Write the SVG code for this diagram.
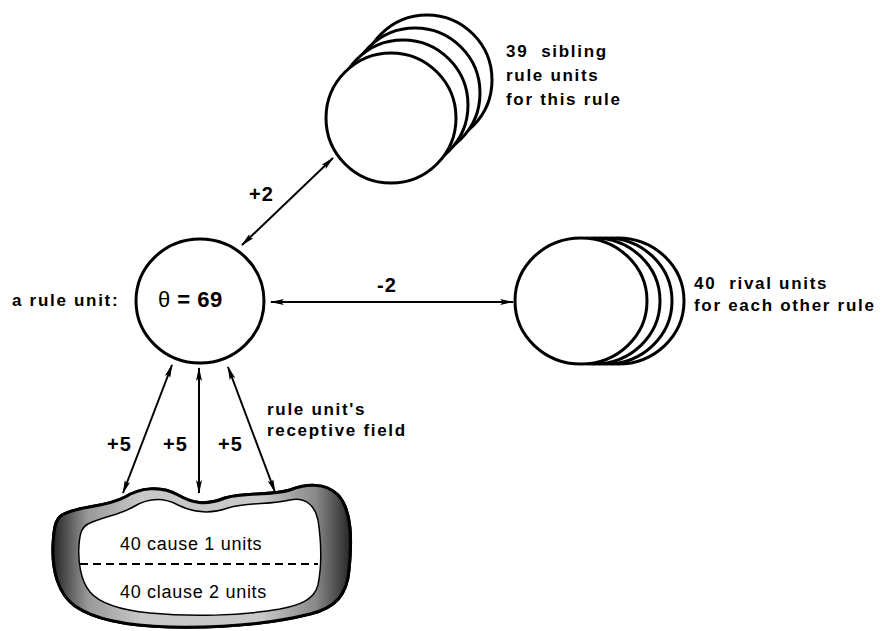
<svg xmlns="http://www.w3.org/2000/svg" width="887" height="631" viewBox="0 0 887 631">
  <style>
    .unit { fill: #fff; stroke: #000; stroke-width: 3; }
    .lbl { font-family: "Liberation Sans", Arial, Helvetica, sans-serif; font-weight: bold; fill: #000; }
    .side { font-size: 17px; letter-spacing: 1.7px; }
    .wt { font-size: 20px; letter-spacing: 1px; }
    .field { font-family: "Liberation Sans", Arial, Helvetica, sans-serif; font-size: 18px; letter-spacing: 0.7px; fill: #000; }
    .link { stroke: #000; stroke-width: 2; fill: none; marker-start: url(#head); marker-end: url(#head); }
  </style>
  <defs>
    <marker id="head" viewBox="0 0 14 6" refX="13" refY="3" markerWidth="14" markerHeight="6" markerUnits="userSpaceOnUse" orient="auto-start-reverse">
      <path d="M0,0 L14,3 L0,6 L3,3 Z" fill="#000"/>
    </marker>
    <linearGradient id="band" gradientUnits="userSpaceOnUse" x1="52" y1="0" x2="352" y2="0">
      <stop offset="0" stop-color="#222"/>
      <stop offset="0.12" stop-color="#999"/>
      <stop offset="0.3" stop-color="#c8c8c8"/>
      <stop offset="0.7" stop-color="#c8c8c8"/>
      <stop offset="0.88" stop-color="#888"/>
      <stop offset="1" stop-color="#222"/>
    </linearGradient>
    <pattern id="stipple" width="3" height="3" patternUnits="userSpaceOnUse">
      <rect x="0" y="0" width="1.2" height="1.2" fill="#fff" fill-opacity="0.55"/>
    </pattern>
  </defs>

  <!-- connectors -->
  <g id="connectors">
    <line class="link" x1="242" y1="245" x2="333" y2="158"/>
    <line class="link" x1="271" y1="302" x2="513" y2="302"/>
    <line class="link" x1="172" y1="365" x2="123" y2="493"/>
    <line class="link" x1="199" y1="368" x2="199" y2="493"/>
    <line class="link" x1="228" y1="367" x2="275" y2="492"/>
    <text class="lbl wt" x="249" y="201">+2</text>
    <text class="lbl wt" x="377" y="292" font-size="21">-2</text>
    <text class="lbl wt" x="107" y="451">+5</text>
    <text class="lbl wt" x="163" y="451">+5</text>
    <text class="lbl wt" x="218" y="451">+5</text>
  </g>

  <!-- the rule unit itself -->
  <g id="rule-unit">
    <ellipse class="unit" cx="200" cy="301" rx="64" ry="62"/>
    <text class="lbl" x="158" y="307" font-size="22" letter-spacing="0.5"><tspan font-weight="normal">θ</tspan> = 69</text>
    <text class="lbl side" x="12" y="306">a rule unit:</text>
  </g>

  <!-- stack of sibling rule units -->
  <g id="siblings">
    <circle class="unit" cx="427" cy="80" r="65"/>
    <circle class="unit" cx="415" cy="93" r="65"/>
    <circle class="unit" cx="403" cy="105" r="65"/>
    <circle class="unit" cx="391" cy="118" r="65"/>
    <text class="lbl side" xml:space="preserve" x="506" y="57">39  sibling</text>
    <text class="lbl side" x="506" y="81">rule units</text>
    <text class="lbl side" x="506" y="105">for this rule</text>
  </g>

  <!-- stack of rival units -->
  <g id="rivals">
    <ellipse class="unit" cx="618" cy="301" rx="66" ry="63"/>
    <ellipse class="unit" cx="606" cy="301" rx="66" ry="63"/>
    <ellipse class="unit" cx="594" cy="301" rx="66" ry="63"/>
    <ellipse class="unit" cx="581" cy="301" rx="66" ry="63"/>
    <text class="lbl side" xml:space="preserve" x="694" y="289">40  rival units</text>
    <text class="lbl side" x="694" y="311">for each other rule</text>
  </g>

  <!-- receptive field: clause units inside a shaded rim -->
  <g id="receptive-field">
    <path id="rim" d="M62,515 C80,505 105,508 125,497 C140,488 160,485 178,495 C192,503 205,506 225,498 C245,492 270,496 290,490 C305,484 325,482 338,495 C352,510 352,540 349,570 C347,595 335,608 310,614 C270,624 220,628 170,627 C130,626 95,620 75,606 C58,594 52,570 53,545 C54,528 55,520 62,515 Z" fill="url(#band)" stroke="#000" stroke-width="3"/>
    <use href="#rim" fill="url(#stipple)" stroke="none"/>
    <path d="M88,524 C105,516 120,515 133,507 C148,498 163,497 178,505 C192,512 208,515 228,508 C248,502 270,505 290,500 C305,497 315,505 318,520 C321,540 322,565 318,585 C314,600 300,605 280,609 C240,616 190,617 150,613 C120,610 100,604 90,592 C80,580 78,560 79,545 C80,532 82,527 88,524 Z" fill="#fff" stroke="#000" stroke-width="1.5"/>
    <line x1="80" y1="564" x2="318" y2="564" stroke="#000" stroke-width="2" stroke-dasharray="8 5"/>
    <text class="field" x="120" y="550">40 cause 1 units</text>
    <text class="field" x="120" y="598">40 clause 2 units</text>
    <text class="lbl side" x="267" y="415">rule unit's</text>
    <text class="lbl side" x="267" y="436">receptive field</text>
  </g>
</svg>
